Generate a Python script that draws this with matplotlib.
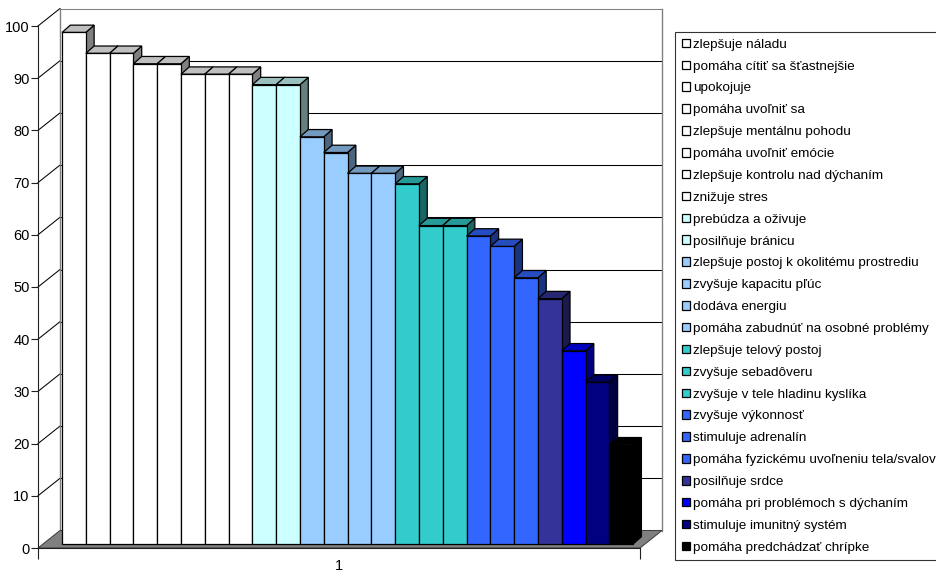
import matplotlib.pyplot as plt
import numpy as np
from matplotlib.colors import to_rgb
from matplotlib.patches import Polygon

plt.rcParams["font.family"] = ["Liberation Sans", "DejaVu Sans"]

labels = [
    "zlepšuje náladu",
    "pomáha cítiť sa šťastnejšie",
    "upokojuje",
    "pomáha uvoľniť sa",
    "zlepšuje mentálnu pohodu",
    "pomáha uvoľniť emócie",
    "zlepšuje kontrolu nad dýchaním",
    "znižuje stres",
    "prebúdza a oživuje",
    "posilňuje bránicu",
    "zlepšuje postoj k okolitému prostrediu",
    "zvyšuje kapacitu pľúc",
    "dodáva energiu",
    "pomáha zabudnúť na osobné problémy",
    "zlepšuje telový postoj",
    "zvyšuje sebadôveru",
    "zvyšuje v tele hladinu kyslíka",
    "zvyšuje výkonnosť",
    "stimuluje adrenalín",
    "pomáha fyzickému uvoľneniu tela/svalov",
    "posilňuje srdce",
    "pomáha pri problémoch s dýchaním",
    "stimuluje imunitný systém",
    "pomáha predchádzať chrípke",
]
values = [98, 94, 94, 92, 92, 90, 90, 90, 88, 88, 78, 75,
          71, 71, 69, 61, 61, 59, 57, 51, 47, 37, 31, 19]
colors = ["#FFFFFF"] * 8 + ["#CCFFFF"] * 2 + ["#99CCFF"] * 4 + ["#33CCCC"] * 3 \
    + ["#3366FF"] * 3 + ["#333399", "#0000FF", "#000080", "#000000"]
y_ticks = np.arange(0, 101, 10)
category = "1"

W, H, DPI = 936, 573, 100
fig = plt.figure(figsize=(W / DPI, H / DPI), dpi=DPI)
ax = fig.add_axes([38 / W, 25 / H, 602 / W, 522 / H])
xmin, xmax = -1.3, 24.0
ax.set_xlim(xmin, xmax)
ax.set_ylim(0, 100)
ax.patch.set_visible(False)

# pixel -> data unit conversions for the fake 3d depth
px_x = 602 / (xmax - xmin)
px_y = 522 / 100
wall_dx, wall_dy = 22 / px_x, 17.5 / px_y      # back wall
plane_dx, plane_dy = 5 / px_x, 4 / px_y        # front face of the bars
depth_dx, depth_dy = 8.3 / px_x, 7.3 / px_y    # bar depth


def poly(pts, fc, ec, z, lw=0.75):
    ax.add_patch(Polygon(pts, closed=True, facecolor=fc, edgecolor=ec,
                         lw=lw, zorder=z, clip_on=False))


def shade(c, f):
    r, g, b = to_rgb(c)
    return (r * f, g * f, b * f)


# back wall + gridlines
for v in y_ticks[1:]:
    col = "#808080" if v == 100 else "black"
    ax.plot([xmin + wall_dx, xmax + wall_dx], [v + wall_dy] * 2,
            color=col, lw=0.75, zorder=1, clip_on=False)
    ax.plot([xmin, xmin + wall_dx], [v, v + wall_dy],
            color="black", lw=0.75, zorder=1, clip_on=False)
for x in (xmin + wall_dx, xmax + wall_dx):
    ax.plot([x, x], [wall_dy, 100 + wall_dy], color="#808080", lw=1,
            zorder=1, clip_on=False)

# floor
poly([(xmin, 0), (xmax, 0), (xmax + wall_dx, wall_dy), (xmin + wall_dx, wall_dy)],
     "#808080", "#404040", 1.5)

# bars
idx = np.arange(len(values))
bars = ax.bar(idx + plane_dx, values, width=1.0, bottom=plane_dy, color=colors,
              edgecolor="black", linewidth=0.9, label=labels)
for i, (rect, v, c) in enumerate(zip(bars, values, colors)):
    L = rect.get_x()
    R = L + rect.get_width()
    B = plane_dy
    T = B + v
    z = 3 + i * 0.1
    poly([(R, B), (R, T), (R + depth_dx, T + depth_dy), (R + depth_dx, B + depth_dy)],
         shade(c, 0.5), "black", z, lw=0.9)
    poly([(L, T), (R, T), (R + depth_dx, T + depth_dy), (L + depth_dx, T + depth_dy)],
         shade(c, 0.75), "black", z, lw=0.9)
    rect.set_zorder(z + 0.05)

# axes
for s in ("top", "right"):
    ax.spines[s].set_visible(False)
for s in ("left", "bottom"):
    ax.spines[s].set_color("#202020")
    ax.spines[s].set_linewidth(0.8)
    ax.spines[s].set_zorder(2)
ax.set_yticks(y_ticks)
ax.tick_params(axis="y", length=5, width=0.8, pad=1, labelsize=10.5, color="#202020")
ax.set_xticks([(xmin + xmax) / 2], labels=[category])
ax.set_xticks([xmin, xmax], minor=True)
ax.tick_params(axis="x", which="major", length=0, pad=8, labelsize=10.5)
ax.tick_params(axis="x", which="minor", length=8, width=0.8, color="#202020")

leg = fig.legend(handles=list(bars), labels=labels, loc="upper left",
                 bbox_to_anchor=(675 / W, 0, 275 / W, 1 - 32 / H), mode="expand",
                 borderaxespad=0, fontsize=9.7, frameon=True, fancybox=False,
                 edgecolor="black", handlelength=0.6, handleheight=0.6,
                 handletextpad=0.22, labelspacing=0.73, borderpad=0.5)
leg.get_frame().set_linewidth(0.8)

fig.savefig("out.png", dpi=DPI, facecolor="white")
